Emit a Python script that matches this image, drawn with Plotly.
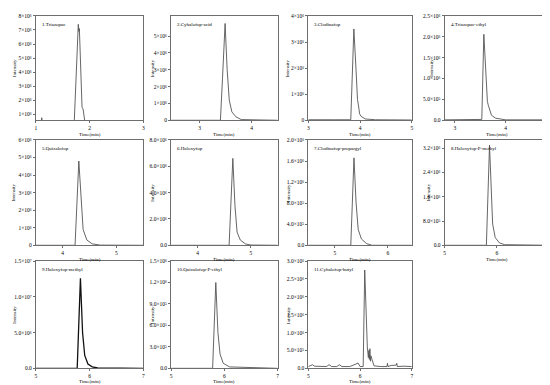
import plotly.graph_objects as go

W, H = 550, 385

# ---------------- data ----------------
names = ["1.Triazopac", "2.Cyhalofop-acid", "3.Clodinafop", "4.Triazopac-ethyl",
         "5.Quizalofop", "6.Haloxyfop", "7.Clodinafop-propargyl", "8.Haloxyfop-P-methyl",
         "9.Haloxyfop-methyl", "10.Quizalofop-P-ethyl", "11.Cyhalofop-butyl"]

t1 = [1.0, 1.10, 1.11, 1.12, 1.71, 1.75, 1.79, 1.80, 1.81, 1.82, 1.84, 1.86, 1.88, 1.90, 1.93, 3.0]
i1 = [0, 0, 0.75e6, 0, 0, 4.0e6, 7.4e6, 6.9e6, 7.1e6, 6.0e6, 3.6e6, 1.5e6, 1.35e6, 0.8e6, 0, 0]

t2 = [2.45, 3.40, 3.44, 3.49, 3.53, 3.57, 3.62, 3.70, 3.80, 4.5]
i2 = [0, 0, 2.5e6, 5.75e6, 3.0e6, 1.2e6, 0.5e6, 0.2e6, 0.04e6, 0]

t3 = [3.0, 3.2, 3.5, 3.82, 3.88, 3.92, 3.95, 3.98, 3.99, 4.02, 4.1, 4.3, 5.0]
i3 = [0.02e6, 0.01e6, 0.02e6, 0.02e6, 3.5e6, 2.0e6, 0.8e6, 0.42e6, 0.25e6, 0.15e6, 0.05e6, 0.02e6, 0.01e6]

t4 = [2.8, 3.5, 3.53, 3.57, 3.61, 3.64, 3.66, 3.72, 3.80, 4.0, 4.85]
i4 = [0.01e6, 0.01e6, 0.02e6, 2.06e6, 1.0e6, 0.45e6, 0.35e6, 0.12e6, 0.05e6, 0.01e6, 0.01e6]

t5 = [3.5, 4.23, 4.30, 4.35, 4.38, 4.45, 4.55, 4.7, 5.5]
i5 = [0, 0, 4.8e6, 2.0e6, 0.9e6, 0.3e6, 0.08e6, 0.01e6, 0]

t6 = [3.5, 4.59, 4.66, 4.70, 4.74, 4.80, 4.90, 5.0, 5.5]
i6 = [0, 0, 6.6e6, 3.0e6, 1.0e6, 0.4e6, 0.1e6, 0.02e6, 0]

t7 = [4.5, 5.30, 5.36, 5.40, 5.44, 5.50, 5.60, 5.70, 6.45]
i7 = [0, 0, 1.66e6, 0.8e6, 0.3e6, 0.12e6, 0.03e6, 0, 0]

t8 = [5.0, 5.80, 5.86, 5.89, 5.92, 5.97, 6.05, 6.15, 7.0]
i8 = [0, 0, 3.3e6, 2.0e6, 0.7e6, 0.25e6, 0.08e6, 0.02e6, 0]

t9 = [5.0, 5.77, 5.83, 5.87, 5.91, 5.97, 6.05, 6.15, 7.0]
i9 = [0, 0, 12.6e6, 5.0e6, 1.8e6, 0.6e6, 0.2e6, 0.05e6, 0]

t10 = [5.0, 5.78, 5.84, 5.88, 5.92, 5.98, 6.10, 7.0]
i10 = [0, 0, 1.2e6, 0.5e6, 0.2e6, 0.07e6, 0.02e6, 0]

t11 = [5.0, 5.08, 5.12, 5.2, 5.35, 5.4, 5.45, 5.55, 5.6, 5.65, 5.8, 5.92, 5.96, 6.0, 6.06,
       6.09, 6.12, 6.14, 6.16, 6.17, 6.18, 6.19, 6.20, 6.21, 6.23, 6.27, 6.4, 6.52, 6.53,
       6.54, 6.6, 6.7, 6.71, 6.72, 6.85, 7.0]
i11 = [0.05e6, 0.1e6, 0.06e6, 0.05e6, 0.05e6, 0.1e6, 0.05e6, 0.05e6, 0.1e6, 0.05e6, 0.05e6,
       0.12e6, 0.15e6, 0.05e6, 0.05e6,
       2.75e6, 1.2e6, 0.6e6, 0.3e6, 0.5e6, 0.25e6, 0.55e6, 0.2e6, 0.35e6, 0.25e6, 0.07e6,
       0.05e6, 0.05e6, 0.14e6, 0.05e6, 0.08e6, 0.09e6, 0.14e6, 0.05e6, 0.06e6, 0.05e6]

times = [t1, t2, t3, t4, t5, t6, t7, t8, t9, t10, t11]
intens = [i1, i2, i3, i4, i5, i6, i7, i8, i9, i10, i11]

x_ranges = [[1, 3], [2.45, 4.5], [3, 5], [2.8, 4.85], [3.5, 5.5], [3.5, 5.5],
            [4.5, 6.45], [5, 7], [5, 7], [5, 7], [5, 7]]
y_ranges = [[0.57e6, 8e6], [0, 6.2e6], [0, 4e6], [0, 2.5e6], [0, 6e6], [0, 8e6],
            [0, 2e6], [0, 3.47e6], [0, 1.5e7], [0, 1.5e6], [0, 3e6]]

x_tickvals = [[1, 2, 3], [3, 4], [3, 4, 5], [3, 4], [4, 5], [4, 5], [5, 6],
              [5, 6, 7], [5, 6, 7], [5, 6, 7], [5, 6, 7]]

y_tickvals = [
    [1e6, 2e6, 3e6, 4e6, 5e6, 6e6, 7e6, 8e6],
    [0, 1e6, 2e6, 3e6, 4e6, 5e6],
    [0, 1e6, 2e6, 3e6, 4e6],
    [0, 5e5, 1e6, 1.5e6, 2e6, 2.5e6],
    [0, 1e6, 2e6, 3e6, 4e6, 5e6, 6e6],
    [0, 2e6, 4e6, 6e6, 8e6],
    [0, 4e5, 8e5, 1.2e6, 1.6e6, 2e6],
    [0, 8e5, 1.6e6, 2.4e6, 3.2e6],
    [0, 5e6, 1e7, 1.5e7],
    [0, 3e5, 6e5, 9e5, 1.2e6, 1.5e6],
    [0, 5e5, 1e6, 1.5e6, 2e6, 2.5e6, 3e6],
]
y_ticktext = [
    ["1×10⁶", "2×10⁶", "3×10⁶", "4×10⁶", "5×10⁶", "6×10⁶", "7×10⁶", "8×10⁶"],
    ["0", "1×10⁶", "2×10⁶", "3×10⁶", "4×10⁶", "5×10⁶"],
    ["0", "1×10⁶", "2×10⁶", "3×10⁶", "4×10⁶"],
    ["0.0", "5.0×10⁵", "1.0×10⁶", "1.5×10⁶", "2.0×10⁶", "2.5×10⁶"],
    ["0", "1×10⁶", "2×10⁶", "3×10⁶", "4×10⁶", "5×10⁶", "6×10⁶"],
    ["0.0", "2.0×10⁶", "4.0×10⁶", "6.0×10⁶", "8.0×10⁶"],
    ["0.0", "4.0×10⁵", "8.0×10⁵", "1.2×10⁶", "1.6×10⁶", "2.0×10⁶"],
    ["0.0", "8.0×10⁵", "1.6×10⁶", "2.4×10⁶", "3.2×10⁶"],
    ["0.0", "5.0×10⁶", "1.0×10⁷", "1.5×10⁷"],
    ["0.0", "3.0×10⁵", "6.0×10⁵", "9.0×10⁵", "1.2×10⁶", "1.5×10⁶"],
    ["0.0", "5.0×10⁵", "1.0×10⁶", "1.5×10⁶", "2.0×10⁶", "2.5×10⁶", "3.0×10⁶"],
]

# ---------------- layout (pixel boxes) ----------------
col_px = [(27, 135), (163, 270), (301, 405), (438, 543)]
row_px = [(5, 111), (131, 238), (254, 363)]
xtitle_y = [125, 252, 376]
ytitle_off = [22, 19, 21, 14, 22, 19, 20, 16, 21, 19, 20]

FONT = "Liberation Serif"
AXC = "#6e6e6e"
LINEC = "#555555"
TXT = "#000000"

fig = go.Figure()
layout = dict(
    width=W, height=H, margin=dict(l=0, r=0, t=0, b=0),
    paper_bgcolor="white", plot_bgcolor="white", showlegend=False,
    font=dict(family=FONT, size=5, color=TXT),
)
annotations = []

for k in range(11):
    r, c = divmod(k, 4)
    x0, x1 = col_px[c]
    y0, y1 = row_px[r]
    ax = "" if k == 0 else str(k + 1)
    fig.add_trace(go.Scatter(
        x=times[k], y=intens[k], mode="lines",
        line=dict(color="#111111" if k == 8 else LINEC, width=1.3 if k == 8 else 0.9),
        xaxis="x" + ax, yaxis="y" + ax, hoverinfo="skip"))
    layout["xaxis" + ax] = dict(
        domain=[x0 / W, x1 / W], range=x_ranges[k], anchor="y" + ax,
        tickmode="array", tickvals=x_tickvals[k],
        ticktext=[str(v) for v in x_tickvals[k]],
        showgrid=False, zeroline=False,
        showline=True, mirror=True, linecolor=AXC, linewidth=1,
        ticks="outside", ticklen=2, tickcolor=AXC, tickwidth=0.7,
        ticklabeloverflow="allow",
        tickfont=dict(family=FONT, size=5.5, color=TXT))
    layout["yaxis" + ax] = dict(
        domain=[1 - y1 / H, 1 - y0 / H], range=y_ranges[k], anchor="x" + ax,
        tickmode="array", tickvals=y_tickvals[k], ticktext=y_ticktext[k],
        showgrid=False, zeroline=False,
        showline=True, mirror=True, linecolor=AXC, linewidth=1,
        ticks="outside", ticklen=2, tickcolor=AXC, tickwidth=0.7,
        ticklabeloverflow="allow",
        tickfont=dict(family=FONT, size=5.5, color=TXT))
    # panel label
    annotations.append(dict(
        text=names[k], x=(x0 + 4) / W, y=1 - (y0 + 4) / H, xref="paper", yref="paper",
        xanchor="left", yanchor="top", showarrow=False,
        font=dict(family=FONT, size=5, color=TXT)))
    # x title
    annotations.append(dict(
        text="Time(min)", x=(x0 + x1) / 2 / W, y=1 - xtitle_y[r] / H,
        xref="paper", yref="paper", xanchor="center", yanchor="middle",
        showarrow=False, font=dict(family=FONT, size=5, color=TXT)))
    # y title
    annotations.append(dict(
        text="Intensity", x=(x0 - ytitle_off[k]) / W, y=1 - (y0 + y1) / 2 / H,
        xref="paper", yref="paper", xanchor="center", yanchor="middle",
        textangle=-90, showarrow=False, font=dict(family=FONT, size=5, color=TXT)))

layout["annotations"] = annotations
fig.update_layout(**layout)
fig.write_html("out.html")
